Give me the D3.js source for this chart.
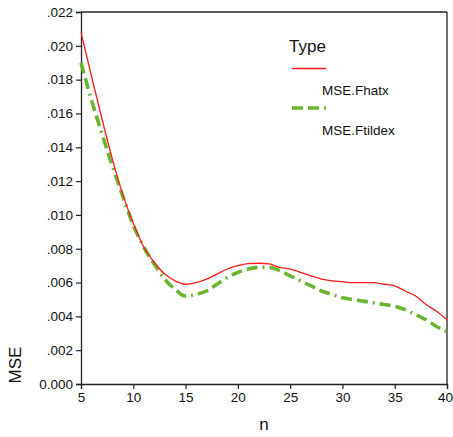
<!DOCTYPE html>
<html><head><meta charset="utf-8">
<script src="https://cdn.jsdelivr.net/npm/d3@7/dist/d3.min.js"></script>
<style>body{margin:0;background:#fff}svg{display:block}text{font-family:Arial,"Liberation Sans",sans-serif}</style>
</head><body>
<script>
const nValues = [5,6,7,8,9,10,11,12,13,14,15,16,17,18,19,20,21,22,23,24,25,26,27,28,29,30,31,32,33,34,35,36,37,38,39,40];
const mseFhatx = [0.0208,0.0182,0.0157,0.0133,0.0112,0.0095,0.0081,0.0072,0.0065,0.0061,0.0059,0.0060,0.0062,0.0065,0.0068,0.0070,0.00712,0.00714,0.0071,0.0069,0.0068,0.0066,0.0064,0.0062,0.0061,0.00605,0.0060,0.0060,0.0060,0.0059,0.0058,0.0055,0.0052,0.0047,0.0043,0.0038];
const mseFtildex = [0.0190,0.0168,0.0148,0.0129,0.0111,0.0094,0.0081,0.0071,0.0062,0.0056,0.0052,0.0053,0.0055,0.0059,0.0063,0.0066,0.0068,0.0069,0.0069,0.0067,0.0064,0.0061,0.0058,0.0055,0.0053,0.0051,0.0050,0.0049,0.0048,0.0047,0.0046,0.0044,0.0041,0.0038,0.0034,0.0031];
const xTicks = [5,10,15,20,25,30,35,40];
const yTicks = [0,0.002,0.004,0.006,0.008,0.010,0.012,0.014,0.016,0.018,0.020,0.022];
const seriesNames = ["MSE.Fhatx","MSE.Ftildex"];
const legendTitle = "Type";

const W=453,H=437;
const svg=d3.select("body").append("svg").attr("width",W).attr("height",H);
const x=d3.scaleLinear().domain([5,40]).range([81,447]);
const y=d3.scaleLinear().domain([0,0.022]).range([384,12]);
const axisColor="#222";

svg.append("line").attr("x1",81).attr("x2",447).attr("y1",12).attr("y2",12).attr("stroke",axisColor).attr("stroke-width",1.3);
svg.append("line").attr("x1",447).attr("x2",447).attr("y1",12).attr("y2",384).attr("stroke",axisColor).attr("stroke-width",1.3);

const fmt=v=> v===0 ? "0.000" : d3.format(".3f")(v).replace(/^0/,"");
const gy=svg.append("g").attr("transform","translate(81,0)")
  .call(d3.axisLeft(y).tickValues(yTicks).tickFormat(fmt).tickSize(5).tickPadding(3));
const gx=svg.append("g").attr("transform","translate(0,384)")
  .call(d3.axisBottom(x).tickValues(xTicks).tickFormat(d3.format("d")).tickSize(5).tickPadding(3));
[gx,gy].forEach(g=>{
  g.selectAll("path").attr("stroke",axisColor).attr("stroke-width",1.3);
  g.selectAll("line").attr("stroke",axisColor).attr("stroke-width",1.2);
  g.selectAll("text").attr("font-size",13.5).attr("fill","#111").style("font-family","Arial, 'Liberation Sans', sans-serif");
});
gx.selectAll(".tick").filter(d=>d===40).select("text").attr("dx",-2);

svg.append("text").attr("x",264).attr("y",430).attr("text-anchor","middle").attr("font-size",17).attr("fill","#111").text("n");
svg.append("text").attr("transform","translate(21,365) rotate(-90)").attr("text-anchor","middle").attr("font-size",17).attr("fill","#111").text("MSE");

const line=d3.line().x((d,i)=>x(nValues[i])).y(d=>y(d)).curve(d3.curveMonotoneX);
const red="#ff1a1a", green="#6ab530";
const dash="11,5,11,5,2,5";
svg.append("path").datum(mseFtildex).attr("d",line).attr("fill","none").attr("stroke",green).attr("stroke-width",3.6).attr("stroke-dasharray",dash);
svg.append("path").datum(mseFhatx).attr("d",line).attr("fill","none").attr("stroke",red).attr("stroke-width",1.3);

svg.append("text").attr("x",289).attr("y",52).attr("font-size",17).attr("fill","#111").text(legendTitle);
svg.append("line").attr("x1",292).attr("x2",326).attr("y1",68.5).attr("y2",68.5).attr("stroke",red).attr("stroke-width",1.3);
svg.append("text").attr("x",322).attr("y",95).attr("font-size",13.5).attr("fill","#111").text(seriesNames[0]);
svg.append("line").attr("x1",292).attr("x2",327).attr("y1",108).attr("y2",108).attr("stroke",green).attr("stroke-width",3.6).attr("stroke-dasharray",dash);
svg.append("text").attr("x",322).attr("y",135).attr("font-size",13.5).attr("fill","#111").text(seriesNames[1]);
</script>
</body></html>
